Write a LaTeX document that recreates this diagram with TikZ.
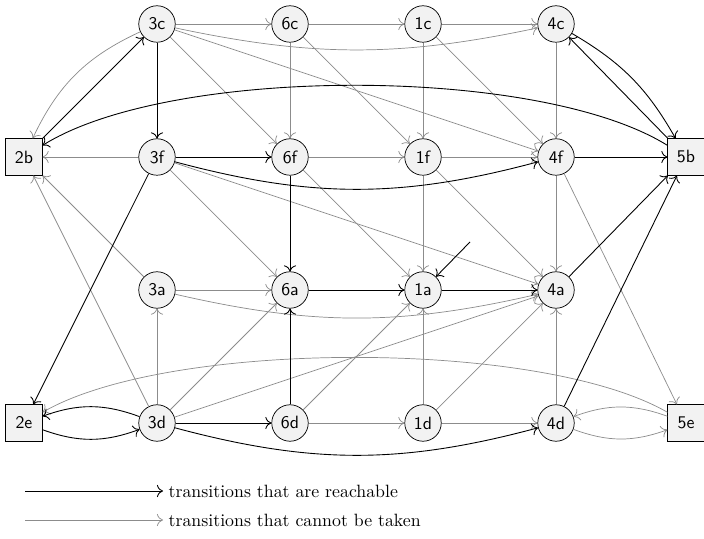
\documentclass[tikz,border=0pt]{standalone}
\usetikzlibrary{arrows.meta}
\begin{document}
\begin{tikzpicture}[x=0.5618pt,y=0.5618pt,
  st/.style={circle,draw,fill=black!5,minimum size=20.5pt,inner sep=0pt,font=\sffamily},
  sq/.style={rectangle,draw,fill=black!5,minimum size=20.5pt,inner sep=0pt,font=\sffamily},
  tip/.style={-{To[length=3.4pt,width=6.8pt]}},
  reach/.style={draw=black,line width=0.5pt,tip},
  blocked/.style={draw=black!45,line width=0.4pt,tip},
  legtext/.style={anchor=west,inner xsep=3pt,inner ysep=1pt}
]
\useasboundingbox (0,0) rectangle (704,538);
% states
\node[st] (3c) at (157,514) {3c};
\node[st] (6c) at (290,514) {6c};
\node[st] (1c) at (423,514) {1c};
\node[st] (4c) at (556,514) {4c};
\node[sq] (2b) at (24,381) {2b};
\node[st] (3f) at (157,381) {3f};
\node[st] (6f) at (290,381) {6f};
\node[st] (1f) at (423,381) {1f};
\node[st] (4f) at (556,381) {4f};
\node[sq] (5b) at (686,381) {5b};
\node[st] (3a) at (157,248) {3a};
\node[st] (6a) at (290,248) {6a};
\node[st] (1a) at (423,248) {1a};
\node[st] (4a) at (556,248) {4a};
\node[sq] (2e) at (24,115) {2e};
\node[st] (3d) at (157,115) {3d};
\node[st] (6d) at (290,115) {6d};
\node[st] (1d) at (423,115) {1d};
\node[st] (4d) at (556,115) {4d};
\node[sq] (5e) at (686,115) {5e};
\coordinate (init) at (470,296);
% blocked transitions
\draw[blocked] (3c) -- (6c);
\draw[blocked] (6c) -- (1c);
\draw[blocked] (1c) -- (4c);
\draw[blocked] (3c) to[bend right=12] (4c);
\draw[blocked] (3c) to[bend right=20] (2b);
\draw[blocked] (3c) -- (6f);
\draw[blocked] (3c) -- (4f);
\draw[blocked] (6c) -- (6f);
\draw[blocked] (6c) -- (1f);
\draw[blocked] (1c) -- (1f);
\draw[blocked] (1c) -- (4f);
\draw[blocked] (4c) -- (4f);
\draw[blocked] (3f) -- (2b);
\draw[blocked] (6f) -- (1f);
\draw[blocked] (1f) -- (4f);
\draw[blocked] (3f) -- (6a);
\draw[blocked] (3f) -- (4a);
\draw[blocked] (6f) -- (1a);
\draw[blocked] (1f) -- (1a);
\draw[blocked] (1f) -- (4a);
\draw[blocked] (4f) -- (4a);
\draw[blocked] (4f) -- (5e);
\draw[blocked] (3a) -- (2b);
\draw[blocked] (3d) -- (2b);
\draw[blocked] (3a) -- (6a);
\draw[blocked] (3a) to[bend right=13] (4a);
\draw[blocked] (3d) -- (3a);
\draw[blocked] (3d) -- (6a);
\draw[blocked] (3d) -- (4a);
\draw[blocked] (6d) -- (1a);
\draw[blocked] (6d) -- (1d);
\draw[blocked] (1d) -- (1a);
\draw[blocked] (1d) -- (4a);
\draw[blocked] (1d) -- (4d);
\draw[blocked] (4d) -- (4a);
\draw[blocked] (4d) to[bend right=20] (5e);
\draw[blocked] (5e) to[bend right=20] (4d);
\draw[blocked] (5e) to[out=150,in=30,looseness=0.6] (2e);
% reachable transitions
\draw[reach] (3c) -- (3f);
\draw[reach] (2b) -- (3c);
\draw[reach] (5b) to[out=148,in=32,looseness=0.62] (2b);
\draw[reach] (5b) -- (4c);
\draw[reach] (4c) to[bend left=15] (5b);
\draw[reach] (3f) -- (6f);
\draw[reach] (3f) to[bend right=15] (4f);
\draw[reach] (4f) -- (5b);
\draw[reach] (6f) -- (6a);
\draw[reach] (6a) -- (1a);
\draw[reach] (1a) -- (4a);
\draw[reach] (4a) -- (5b);
\draw[reach] (4d) -- (5b);
\draw[reach] (3f) -- (2e);
\draw[reach] (2e) to[bend right=20] (3d);
\draw[reach] (3d) to[bend right=20] (2e);
\draw[reach] (3d) -- (6d);
\draw[reach] (6d) -- (6a);
\draw[reach] (3d) to[bend right=15] (4d);
\draw[reach] (init) -- (1a);
% legend
\node[legtext] (lt1) at (163,47) {transitions that are reachable};
\node[legtext] (lt2) at (163,18) {transitions that cannot be taken};
\coordinate (la1) at (25,47);
\coordinate (la2) at (25,18);
\draw[reach] (la1) -- (lt1.west);
\draw[blocked] (la2) -- (lt2.west);
\end{tikzpicture}
\end{document}
